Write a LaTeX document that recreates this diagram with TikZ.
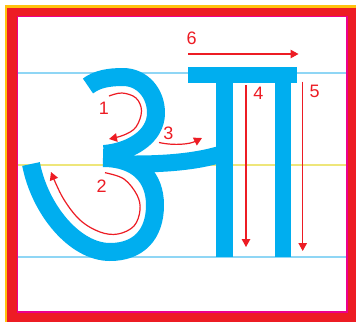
\documentclass[tikz,border=0pt]{standalone}
\usepackage{fontspec}
\setmainfont{Liberation Sans}
\usetikzlibrary{arrows.meta}
\definecolor{fyellow}{HTML}{FFC20E}
\definecolor{fred}{HTML}{ED1C24}
\definecolor{fpink}{HTML}{EC008C}
\definecolor{glyph}{HTML}{00AEEF}
\definecolor{guideblue}{HTML}{8FD6F5}
\definecolor{guideyellow}{HTML}{EEE67A}
\definecolor{arrowred}{HTML}{ED1C24}
\begin{document}
\begin{tikzpicture}[x=1pt,y=-1pt,
  stroke/.style={draw=glyph,line width=18pt,line cap=butt,line join=round},
  guide/.style={line width=1.8pt},
  order/.style={draw=arrowred,line width=1.2pt,-{Triangle[length=8pt,width=8.5pt]}},
  num/.style={text=arrowred,font=\fontsize{18}{18}\selectfont,inner sep=0pt}]
\useasboundingbox (0,0) rectangle (356,322);
\fill[white] (0,0) rectangle (356,322);
% frame
\fill[fyellow] (5,5) rectangle (356,322);
\fill[fred] (7.3,7.5) rectangle (356,322);
\filldraw[fill=white,draw=fpink,line width=1.6pt] (17.5,16.5) rectangle (346.8,311.7);
% guide lines
\draw[guide,guideblue] (18.3,72.6) -- (346,72.6);
\draw[guide,guideblue] (18.3,256.8) -- (346,256.8);
\draw[guide,guideyellow] (18.3,164.6) -- (346,164.6);
% glyph: upper bowl
\draw[stroke] (88,86) .. controls (97,79) and (109,77) .. (123,77)
  .. controls (142,77) and (156,93) .. (156,113)
  .. controls (156,137) and (130,152) .. (104,154);
% lower bowl
\draw[stroke] (103,158) .. controls (138,158) and (155,178) .. (155,205)
  .. controls (155,235) and (138,252) .. (110,252)
  .. controls (75,252) and (40,210) .. (31,164);
% crossbar
\draw[stroke,line width=17pt] (135,164) .. controls (175,164) and (200,160) .. (218,155);
% stems and top bar
\fill[glyph] (188.3,66.7) rectangle (296.7,82.7);
\fill[glyph] (216,66.7) rectangle (232.7,256.7);
\fill[glyph] (275,66.7) rectangle (290.7,256.7);
% stroke order arrows
\draw[order] plot[smooth,tension=0.6] coordinates {(109,96) (122,93) (136,98) (141.5,111) (136,127) (124,135) (109,139)};
\draw[order] plot[smooth,tension=0.6] coordinates {(105,172.7) (124,179) (137,195) (140,210) (134,226) (118,234) (100,232) (80,220) (63,198) (51,172)};
\draw[order] (159,142.5) .. controls (175,146) and (190,144) .. (202,138);
\draw[order] (246,85) -- (246,247);
\draw[order] (302.7,81.7) -- (302.7,251);
\draw[order] (188.3,54) -- (298.5,54);
% labels
\node[num] (n1) at (104,108.3) {1};
\node[num] (n2) at (101.7,186.5) {2};
\node[num] (n3) at (168.3,133) {3};
\node[num] (n4) at (258.5,93) {4};
\node[num] (n5) at (314.7,91) {5};
\node[num] (n6) at (191.7,38.3) {6};
\end{tikzpicture}
\end{document}
